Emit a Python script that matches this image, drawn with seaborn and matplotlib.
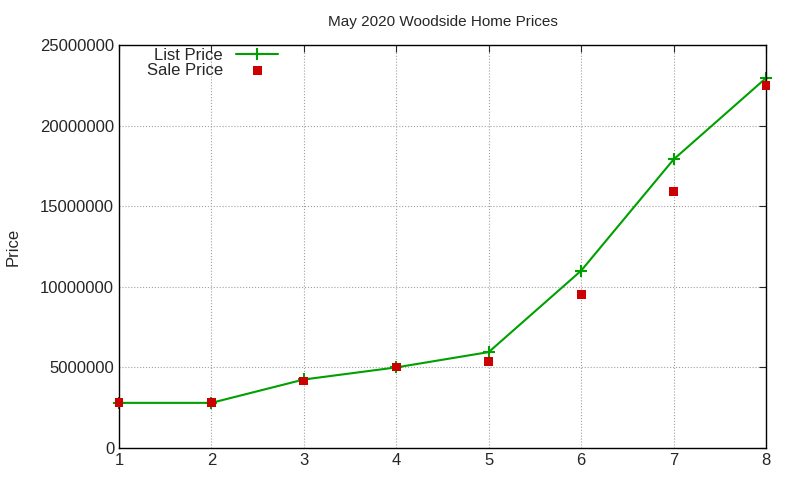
import matplotlib
matplotlib.use("Agg")
import matplotlib.pyplot as plt
import seaborn as sns
import pandas as pd

homes = [1, 2, 3, 4, 5, 6, 7, 8]
list_price = [2800000, 2800000, 4250000, 5000000, 5950000, 11000000, 17900000, 22950000]
sale_price = [2800000, 2800000, 4150000, 5020000, 5350000, 9500000, 15900000, 22500000]

df = pd.DataFrame({"x": homes, "list": list_price, "sale": sale_price})

sns.set_style("white")
plt.rcParams['font.family'] = ['Liberation Sans', 'DejaVu Sans']
fig = plt.figure(figsize=(8, 4.8), dpi=100)
ax = fig.add_axes([119/800, 32/480, (766-119)/800, (448-45)/480])

sns.lineplot(data=df, x="x", y="list", ax=ax, color="#00a000", marker="+",
             markersize=8, markeredgewidth=1.5, markeredgecolor="#00a000",
             linewidth=1.5, label="List Price", clip_on=False)
sns.scatterplot(data=df, x="x", y="sale", ax=ax, color="#cc0000", marker="s",
                s=40, edgecolor="none", label="Sale Price", zorder=5, clip_on=False)

ax.set_xlim(1, 8)
ax.set_ylim(0, 25000000)
ax.set_xticks(homes)
ax.set_yticks(range(0, 25000001, 5000000))
ax.ticklabel_format(axis="y", style="plain", useOffset=False)
ax.grid(True, color="#a0a0a0", linestyle=":", linewidth=0.8)
ax.tick_params(direction="in", length=5, labelsize=12, top=True, right=True)
for s in ax.spines.values():
    s.set_color("black")
    s.set_linewidth(1)
ax.set_xlabel("")
ax.set_ylabel("Price", fontsize=12, labelpad=14)
ax.set_title("May 2020 Woodside Home Prices", fontsize=11, pad=14)
leg = ax.legend(loc="upper left", markerfirst=False, frameon=False, fontsize=12,
                bbox_to_anchor=(0.02, 1.03), handlelength=2.5, labelspacing=0.0)
for t in leg.get_texts():
    t.set_ha("right")
fig.savefig("out.png", dpi=100)
